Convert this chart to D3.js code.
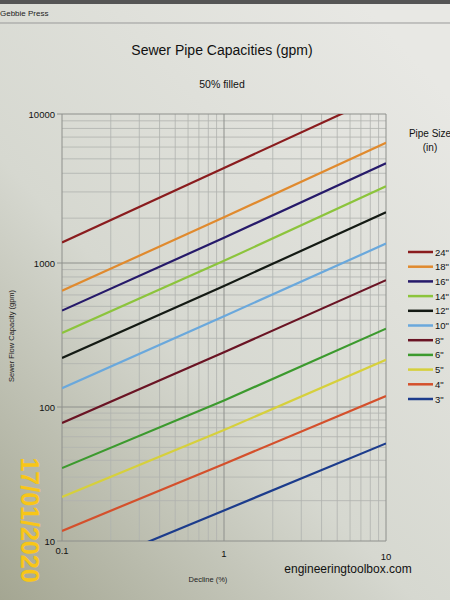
<!DOCTYPE html>
<html><head><meta charset="utf-8">
<script src="https://cdn.jsdelivr.net/npm/d3@7"></script>
<style>body{margin:0;overflow:hidden}svg{display:block}</style>
</head><body>
<svg id="c" width="450" height="600"></svg>
<script>
// declines (%) at which values are read
const declines = [0.1, 1, 10];
const pipeSizes = ['24"', '18"', '16"', '14"', '12"', '10"', '8"', '6"', '5"', '4"', '3"'];
const flow24 = [1374, 4345, 13740];
const flow18 = [641, 2027, 6410];
const flow16 = [467, 1477, 4670];
const flow14 = [327, 1034, 3270];
const flow12 = [219, 693, 2190];
const flow10 = [135, 427, 1350];
const flow8 = [76, 240, 760];
const flow6 = [35, 111, 350];
const flow5 = [21.3, 67.4, 213];
const flow4 = [11.9, 37.6, 119];
const flow3 = [5.35, 16.9, 53.5];
const colors = ["#8a1c1e", "#e08a2e", "#261a6a", "#8cc43c", "#141a14", "#6aa8dc", "#6a1424", "#3c9a2e", "#d6d03c", "#d4502c", "#1c3c8c"];
const yTicks = [10, 100, 1000, 10000];
const xTicks = [0.1, 1, 10];

const series = [flow24, flow18, flow16, flow14, flow12, flow10, flow8, flow6, flow5, flow4, flow3];
const svg = d3.select("#c");

const defs = svg.append("defs");
const g = defs.append("linearGradient").attr("id","bg").attr("x1","0.8").attr("y1","0").attr("x2","0").attr("y2","1");
g.append("stop").attr("offset","0").attr("stop-color","#e8e8e4");
g.append("stop").attr("offset","0.55").attr("stop-color","#d6d8d0");
g.append("stop").attr("offset","1").attr("stop-color","#a4a692");
svg.append("rect").attr("width",450).attr("height",600).attr("fill","url(#bg)");
defs.append("clipPath").attr("id","clip").append("rect").attr("x",62).attr("y",114).attr("width",324).attr("height",427);

// top window bar
svg.append("rect").attr("width",450).attr("height",4).attr("fill","#555");
svg.append("text").attr("x",0).attr("y",16).attr("font-family","Liberation Sans, Arial").attr("font-size",8).attr("fill","#222").text("Gebbie Press");
svg.append("line").attr("x1",0).attr("x2",450).attr("y1",23).attr("y2",23).attr("stroke","#999").attr("stroke-width",1);

const L = 62, R = 386, T = 114, B = 541;
const x = d3.scaleLog().domain([0.1, 10]).range([L, R]);
const y = d3.scaleLog().domain([10, 100, 1000, 10000]).range([B, 407, 263, T]);

// grid
const minorX = [], minorY = [];
[0.1, 1].forEach(d => { for (let k = 2; k <= 9; k++) minorX.push(d * k); });
[10, 100, 1000].forEach(d => { for (let k = 2; k <= 9; k++) minorY.push(d * k); });
const grid = svg.append("g");
grid.selectAll(".mx").data(minorX).join("line").attr("x1", d => x(d)).attr("x2", d => x(d)).attr("y1", T).attr("y2", B).attr("stroke", "#b0b2ae").attr("stroke-width", 0.8);
grid.selectAll(".my").data(minorY).join("line").attr("y1", d => y(d)).attr("y2", d => y(d)).attr("x1", L).attr("x2", R).attr("stroke", "#b0b2ae").attr("stroke-width", 0.8);
grid.selectAll(".Mx").data(xTicks).join("line").attr("x1", d => x(d)).attr("x2", d => x(d)).attr("y1", T).attr("y2", B).attr("stroke", "#8e908c").attr("stroke-width", 1);
grid.selectAll(".My").data(yTicks).join("line").attr("y1", d => y(d)).attr("y2", d => y(d)).attr("x1", L - 5).attr("x2", R).attr("stroke", "#8e908c").attr("stroke-width", 1);

// axes labels
const font = "Liberation Sans, Arial, sans-serif";
svg.append("g").selectAll("text").data(yTicks).join("text")
  .attr("x", L - 7).attr("y", d => y(d) + 3.5).attr("text-anchor", "end")
  .attr("font-family", font).attr("font-size", 9.5).attr("fill", "#111").text(d => d3.format("d")(d));
svg.append("g").selectAll("text").data(xTicks).join("text")
  .attr("x", d => x(d)).attr("y", (d, i) => 554 + i * 3).attr("text-anchor", "middle")
  .attr("font-family", font).attr("font-size", 9.5).attr("fill", "#111").text(d => d);

// lines
const line = d3.line().x((d, i) => x(declines[i])).y(d => y(d));
svg.append("g").attr("clip-path", "url(#clip)").selectAll("path").data(series).join("path")
  .attr("d", line).attr("fill", "none").attr("stroke", (d, i) => colors[i]).attr("stroke-width", 2.2);

// titles
svg.append("text").attr("x", 222).attr("y", 55).attr("text-anchor", "middle").attr("font-family", font).attr("font-size", 14).attr("fill", "#111").text("Sewer Pipe Capacities (gpm)");
svg.append("text").attr("x", 222).attr("y", 88).attr("text-anchor", "middle").attr("font-family", font).attr("font-size", 10.5).attr("fill", "#111").text("50% filled");
svg.append("text").attr("transform", "translate(14,336) rotate(-90)").attr("text-anchor", "middle").attr("font-family", font).attr("font-size", 7.5).attr("fill", "#222").text("Sewer Flow Capacity (gpm)");
svg.append("text").attr("x", 208).attr("y", 582).attr("text-anchor", "middle").attr("font-family", font).attr("font-size", 7.5).attr("fill", "#222").text("Decline (%)");
svg.append("text").attr("x", 348).attr("y", 573).attr("text-anchor", "middle").attr("font-family", font).attr("font-size", 12).attr("fill", "#111").text("engineeringtoolbox.com");

// legend
svg.append("text").attr("x", 430).attr("y", 137).attr("text-anchor", "middle").attr("font-family", font).attr("font-size", 10).attr("fill", "#111").text("Pipe Size");
svg.append("text").attr("x", 430).attr("y", 151).attr("text-anchor", "middle").attr("font-family", font).attr("font-size", 10).attr("fill", "#111").text("(in)");
const lg = svg.append("g").selectAll("g").data(pipeSizes).join("g")
  .attr("transform", (d, i) => `translate(0,${252 + i * 14.7})`);
lg.append("line").attr("x1", d => 408).attr("x2", 433).attr("stroke", (d, i) => colors[i]).attr("stroke-width", 2.5);
lg.append("text").attr("x", 435).attr("y", 3.5).attr("font-family", font).attr("font-size", 9.5).attr("fill", "#111").text(d => d);

// date stamp
svg.append("text").attr("transform", "translate(21,520) rotate(90)").attr("text-anchor", "middle")
  .attr("font-family", font).attr("font-size", 25).attr("font-weight", "bold").attr("fill", "#f8c618").text("17/01/2020");
</script>
</body></html>
